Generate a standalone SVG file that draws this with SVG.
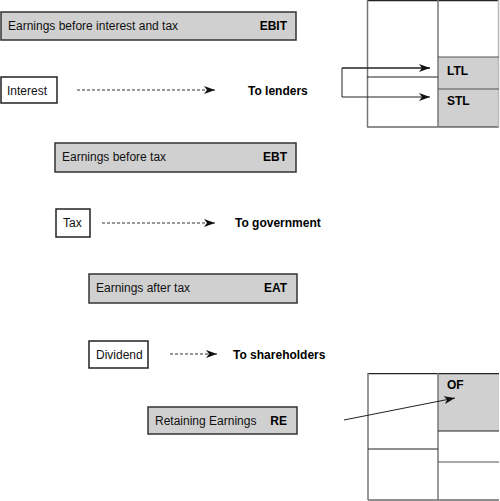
<svg xmlns="http://www.w3.org/2000/svg" width="500" height="501" viewBox="0 0 500 501">
<style>
.bar{fill:#d0d0d0;stroke:#333;stroke-width:1.5}
.box{fill:#fff;stroke:#222;stroke-width:1.5}
.t{font-family:"Liberation Sans",Arial,sans-serif;font-size:12px;fill:#111}
.b{font-family:"Liberation Sans",Arial,sans-serif;font-size:12px;font-weight:bold;fill:#000}
.dash{stroke:#333;stroke-width:1;stroke-dasharray:3,2;fill:none}
.ln{stroke:#222;stroke-width:1;fill:none}
.vl{stroke:#777;stroke-width:1.5;fill:none}
.hl{stroke:#222;stroke-width:1.2;fill:none}
.gray{fill:#d0d0d0}
</style>
<defs>
<marker id="ah" markerWidth="12" markerHeight="8" refX="11" refY="4" orient="auto" markerUnits="userSpaceOnUse">
<path d="M0,0 L11,4 L0,8 L3,4 Z" fill="#111"/>
</marker>
</defs>
<g id="ebit"><rect class="bar" x="1" y="12" width="295" height="28"/><text class="t" x="8" y="30">Earnings before interest and tax</text><text class="b" x="287" y="30" text-anchor="end">EBIT</text></g>
<g id="interest"><rect class="box" x="1" y="77" width="56" height="26"/><text class="t" x="7" y="95">Interest</text></g>
<g id="lenders"><text class="b" x="248" y="95">To lenders</text></g>
<g id="ebt"><rect class="bar" x="55" y="143" width="241" height="29"/><text class="t" x="62" y="161">Earnings before tax</text><text class="b" x="287" y="161" text-anchor="end">EBT</text></g>
<g id="tax"><rect class="box" x="56" y="209" width="34" height="28"/><text class="t" x="63" y="227">Tax</text></g>
<g id="government"><text class="b" x="235" y="227">To government</text></g>
<g id="eat"><rect class="bar" x="89" y="274" width="208" height="29"/><text class="t" x="96" y="292">Earnings after tax</text><text class="b" x="287" y="292" text-anchor="end">EAT</text></g>
<g id="dividend"><rect class="box" x="89" y="341" width="59" height="27"/><text class="t" x="96" y="359">Dividend</text></g>
<g id="shareholders"><text class="b" x="233" y="359">To shareholders</text></g>
<g id="re"><rect class="bar" x="148" y="407" width="149" height="27"/><text class="t" x="155" y="425">Retaining Earnings</text><text class="b" x="287" y="425" text-anchor="end">RE</text></g>
<g id="bs1">
<rect class="gray" x="438" y="57" width="61" height="70"/>
<line class="hl" x1="367" y1="0.6" x2="499" y2="0.6"/>
<line class="hl" x1="367" y1="127" x2="499" y2="127"/>
<line class="vl" x1="367.5" y1="0" x2="367.5" y2="127"/>
<line class="vl" x1="438" y1="0" x2="438" y2="127"/>
<line class="vl" x1="498.5" y1="0" x2="498.5" y2="127" style="stroke:#bbb"/>
<line class="hl" x1="367" y1="77" x2="438" y2="77"/>
<line class="hl" x1="438" y1="57" x2="499" y2="57" style="stroke:#555"/>
<line class="hl" x1="438" y1="89" x2="499" y2="89" style="stroke:#555"/>
<text class="b" x="447" y="75">LTL</text>
<text class="b" x="447" y="105">STL</text>
</g>
<g id="bs2">
<rect class="gray" x="438" y="373" width="61" height="58"/>
<line class="hl" x1="368" y1="373.6" x2="499" y2="373.6"/>
<line class="hl" x1="368" y1="500" x2="499" y2="500"/>
<line class="vl" x1="368" y1="373" x2="368" y2="500"/>
<line class="vl" x1="438" y1="373" x2="438" y2="500"/>
<line class="hl" x1="368" y1="449" x2="438" y2="449"/>
<line class="hl" x1="438" y1="431" x2="499" y2="431"/>
<line class="hl" x1="438" y1="462" x2="499" y2="462" style="stroke:#555"/>
<text class="b" x="447" y="389">OF</text>
</g>
<g id="connectors">
<line class="dash" x1="77" y1="90" x2="215" y2="90" marker-end="url(#ah)"/>
<line class="dash" x1="102" y1="223" x2="215" y2="223" marker-end="url(#ah)"/>
<line class="dash" x1="170" y1="354" x2="217" y2="354" marker-end="url(#ah)"/>
<polyline class="ln" points="430,68 342,68 342,97 430,97" marker-end="url(#ah)"/>
<line class="ln" x1="342" y1="68" x2="430" y2="68" marker-end="url(#ah)"/>
<line class="ln" x1="344" y1="420" x2="455" y2="398" marker-end="url(#ah)"/>
</g>
</svg>
